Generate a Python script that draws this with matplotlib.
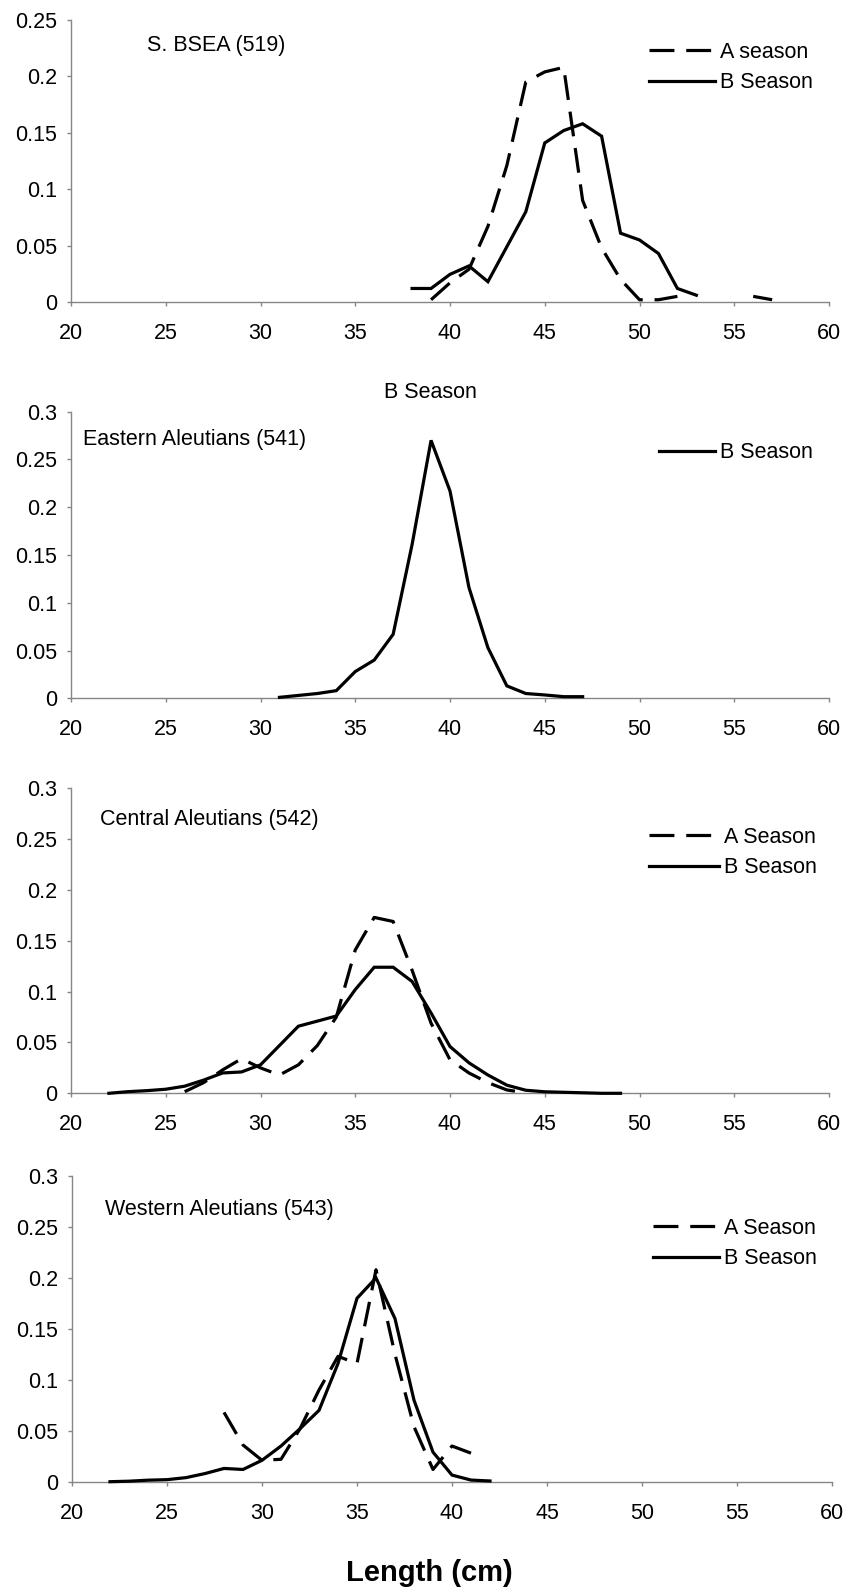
import numpy as np
import matplotlib
matplotlib.use("Agg")
import matplotlib.pyplot as plt
from matplotlib.ticker import FuncFormatter, MultipleLocator

plt.rcParams['font.family'] = ['Liberation Sans', 'DejaVu Sans']

nan = np.nan

# S. BSEA (519)
bsea_len_a = list(range(39, 58))
bsea_a = [0.002, 0.017, 0.029, 0.067, 0.121, 0.195, 0.204, 0.208, 0.090, 0.048,
          0.020, 0.002, 0.002, 0.005, nan, nan, nan, 0.005, 0.002]
bsea_len_b = list(range(38, 54))
bsea_b = [0.012, 0.012, 0.0245, 0.032, 0.018, 0.049, 0.080, 0.141, 0.152, 0.158,
          0.147, 0.061, 0.055, 0.043, 0.012, 0.006]

# Eastern Aleutians (541)
east_len_b = list(range(31, 48))
east_b = [0.001, 0.003, 0.005, 0.008, 0.028, 0.040, 0.067, 0.161, 0.270, 0.217,
          0.116, 0.053, 0.013, 0.005, 0.0035, 0.0017, 0.0017]

# Central Aleutians (542)
cent_len_a = list(range(26, 45))
cent_a = [0.0016, 0.0105, 0.023, 0.034, 0.025, 0.018, 0.028, 0.047, 0.075, 0.141,
          0.173, 0.169, 0.121, 0.069, 0.033, 0.020, 0.0105, 0.0033, 0.0005]
cent_len_b = list(range(22, 50))
cent_b = [0.0, 0.0016, 0.0026, 0.004, 0.007, 0.013, 0.020, 0.021, 0.028, 0.047,
          0.066, 0.071, 0.076, 0.102, 0.124, 0.124, 0.110, 0.079, 0.046, 0.030,
          0.018, 0.008, 0.003, 0.0015, 0.001, 0.0005, 0.0, 0.0]

# Western Aleutians (543)
west_len_a = list(range(28, 42))
west_a = [0.068, 0.036, 0.021, 0.022, 0.052, 0.090, 0.123, 0.116, 0.208, 0.125,
          0.054, 0.012, 0.035, 0.028]
west_len_b = list(range(22, 43))
west_b = [0.0, 0.0005, 0.0015, 0.002, 0.004, 0.008, 0.013, 0.012, 0.021, 0.035,
          0.052, 0.070, 0.116, 0.180, 0.200, 0.160, 0.080, 0.029, 0.0065, 0.0016,
          0.0007]

W, H = 849, 1594
fig = plt.figure(figsize=(W / 100, H / 100), dpi=100)

LW = 2.3
DASH = (7.8, 3.7)
FS = 15.5
GREY = '#868686'


def add_panel(left, top, right, bottom, ymax):
    ax = fig.add_axes([left / W, 1 - bottom / H, (right - left) / W, (bottom - top) / H])
    ax.set_xlim(20, 60)
    ax.set_ylim(0, ymax)
    ax.xaxis.set_major_locator(MultipleLocator(5))
    ax.yaxis.set_major_locator(MultipleLocator(0.05))
    ax.yaxis.set_major_formatter(FuncFormatter(lambda v, p: '%g' % round(v, 2)))
    for s in ('top', 'right'):
        ax.spines[s].set_visible(False)
    for s in ('left', 'bottom'):
        ax.spines[s].set_color(GREY)
        ax.spines[s].set_linewidth(1.0)
    ax.tick_params(axis='both', direction='out', length=3.2, width=1.0,
                   color=GREY, labelsize=FS, labelcolor='black')
    ax.tick_params(axis='y', pad=7)
    ax.tick_params(axis='x', pad=12)
    return ax


def draw(ax, x, y, dashed, label):
    kw = dict(color='black', lw=LW, zorder=3, clip_on=False, label=label,
              solid_joinstyle='miter', dash_capstyle='butt')
    if dashed:
        kw['dashes'] = DASH
    ax.plot(x, y, **kw)


def legend(ax, text_x, row_y, handle_px):
    # anchor given in pixel space of the panel, converted to axes fraction
    bb = ax.get_position()
    x0, x1 = bb.x0 * W, bb.x1 * W
    ytop, ybot = (1 - bb.y1) * H, (1 - bb.y0) * H
    pad = 5
    left = text_x - pad - handle_px
    ax.legend(frameon=False, fontsize=FS, loc='center left',
              handlelength=handle_px * 0.72 / FS, handletextpad=pad * 0.72 / FS,
              borderpad=0, borderaxespad=0, labelspacing=0.45,
              bbox_to_anchor=((left - x0) / (x1 - x0), (ybot - row_y) / (ybot - ytop)))


def label(ax, x, y, s):
    bb = ax.get_position()
    x0, x1 = bb.x0 * W, bb.x1 * W
    ytop, ybot = (1 - bb.y1) * H, (1 - bb.y0) * H
    ax.text((x - x0) / (x1 - x0), (ybot - y) / (ybot - ytop), s,
            transform=ax.transAxes, fontsize=FS, va='center', ha='left')


# S. BSEA
ax1 = add_panel(71, 20, 829, 302, 0.25)
draw(ax1, bsea_len_a, bsea_a, True, 'A season')
draw(ax1, bsea_len_b, bsea_b, False, 'B Season')
label(ax1, 147, 45, 'S. BSEA (519)')
legend(ax1, 720, 67.5, 66)

# Eastern Aleutians
ax2 = add_panel(71, 411.7, 829, 698.3, 0.3)
draw(ax2, east_len_b, east_b, False, 'B Season')
label(ax2, 83, 440, 'Eastern Aleutians (541)')
legend(ax2, 720, 453, 56)
fig.text(430 / W, 1 - 393 / H, 'B Season', fontsize=FS, ha='center', va='center')

# Central Aleutians
ax3 = add_panel(71, 788.3, 829, 1093.3, 0.3)
draw(ax3, cent_len_a, cent_a, True, 'A Season')
draw(ax3, cent_len_b, cent_b, False, 'B Season')
label(ax3, 100, 820, 'Central Aleutians (542)')
legend(ax3, 724, 852.5, 70)

# Western Aleutians
ax4 = add_panel(72, 1176, 832, 1481.7, 0.3)
draw(ax4, west_len_a, west_a, True, 'A Season')
draw(ax4, west_len_b, west_b, False, 'B Season')
label(ax4, 105, 1210, 'Western Aleutians (543)')
legend(ax4, 724, 1243.5, 66)

fig.text(429 / W, 1 - 1573 / H, 'Length (cm)', fontsize=21, fontweight='bold',
         ha='center', va='center')

fig.savefig('out.png', dpi=100)
